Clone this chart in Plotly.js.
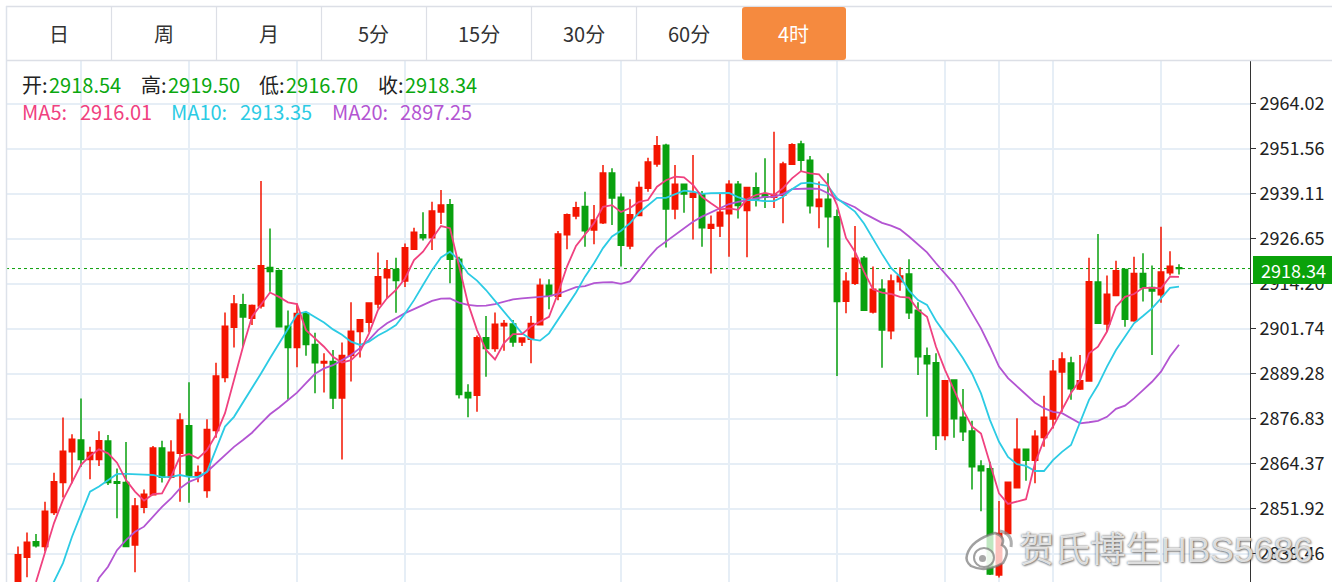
<!DOCTYPE html>
<html><head><meta charset="utf-8">
<script src="https://cdn.plot.ly/plotly-3.0.1.min.js"></script>
<style>html,body{margin:0;padding:0;background:#fff;overflow:hidden}#c{width:1332px;height:582px}</style>
</head><body><div id="c"></div>
<script>
const opens = [
2829.4,2838.4,2842.7,2841.4,2850.8,2859.1,2867.6,2870.9,2865.5,2865.5,
2870.6,2859.3,2859.1,2841.8,2852.3,2855.7,2868.7,2860.6,2867.2,2874.8,
2860.9,2856.9,2873.5,2888.2,2902.1,2908.3,2904.6,2908.0,2918.6,2917.7,
2902.4,2896.5,2905.9,2897.3,2892.2,2892.6,2882.5,2894.3,2900.9,2903.5,
2908.5,2915.8,2918.1,2914.9,2923.7,2927.7,2926.9,2934.0,2936.0,2920.9,
2884.0,2883.3,2899.2,2896.2,2902.5,2903.0,2898.0,2898.8,2902.8,2913.7,
2910.7,2927.7,2932.9,2935.5,2929.0,2931.0,2944.8,2938.1,2924.6,2933.0,
2940.6,2947.3,2952.5,2934.8,2941.7,2938.1,2938.8,2929.5,2930.1,2933.5,
2941.7,2934.4,2940.7,2938.9,2938.1,2938.6,2947.2,2952.8,2948.3,2935.5,
2937.5,2932.7,2909.3,2914.3,2921.2,2906.3,2912.6,2901.1,2914.7,2916.8,
2906.8,2894.2,2892.3,2872.1,2887.5,2877.2,2873.4,2863.7,2862.9,2833.5,
2845.0,2857.7,2868.3,2865.3,2871.6,2876.7,2889.7,2892.2,2885.0,2887.2,
2914.6,2903.0,2910.9,2918.1,2903.9,2917.0,2913.1,2911.1,2917.2,2918.54];
const highs = [
2841.4,2845.3,2844.9,2853.8,2861.8,2877.1,2872.5,2882.4,2869.0,2873.3,
2872.3,2863.0,2870.3,2854.8,2857.2,2869.2,2870.7,2870.8,2878.3,2886.9,
2863.8,2876.6,2892.3,2906.2,2911.0,2911.4,2908.4,2942.6,2929.4,2918.1,
2906.7,2908.7,2906.4,2900.6,2894.9,2895.8,2897.9,2909.0,2904.3,2908.9,
2922.8,2920.7,2921.3,2925.3,2929.6,2933.9,2936.8,2940.1,2937.6,2921.6,
2886.3,2899.8,2905.2,2906.2,2904.1,2904.1,2899.2,2905.2,2915.6,2915.4,
2928.7,2933.6,2936.8,2939.6,2935.9,2947.0,2946.1,2939.2,2937.5,2942.4,
2949.0,2955.0,2952.9,2947.0,2941.7,2949.8,2939.8,2933.0,2939.0,2942.8,
2942.6,2941.0,2944.9,2948.9,2956.2,2947.9,2953.0,2953.7,2949.5,2942.4,
2944.7,2934.7,2917.3,2930.1,2921.8,2918.9,2915.4,2916.7,2918.7,2920.9,
2909.0,2896.5,2894.9,2887.5,2887.7,2885.0,2876.2,2865.3,2864.9,2854.0,
2859.2,2876.9,2868.3,2873.6,2883.1,2893.0,2895.2,2893.9,2894.4,2921.3,
2927.9,2916.4,2920.5,2918.1,2921.6,2922.6,2919.2,2929.9,2923.1,2919.50];
const lows = [
2827.2,2832.9,2841.1,2840.0,2850.1,2855.0,2858.9,2863.5,2860.0,2863.7,
2858.4,2849.2,2841.4,2834.3,2850.6,2855.7,2859.1,2860.3,2853.8,2853.5,
2859.2,2854.9,2871.5,2886.9,2896.5,2896.7,2902.7,2907.3,2911.9,2902.1,
2882.0,2891.0,2894.2,2883.8,2884.0,2879.5,2865.5,2887.1,2893.7,2900.7,
2907.3,2910.1,2906.1,2913.2,2923.7,2926.1,2923.5,2930.7,2914.3,2882.4,
2877.2,2878.7,2888.4,2895.3,2895.6,2896.7,2896.9,2892.1,2902.7,2907.1,
2909.6,2923.7,2932.0,2924.4,2925.1,2930.7,2930.4,2918.9,2923.7,2932.9,
2939.6,2946.5,2924.2,2932.0,2933.8,2926.4,2924.4,2917.0,2927.1,2921.6,
2932.2,2921.5,2935.5,2935.1,2935.1,2930.9,2947.0,2945.1,2933.6,2929.5,
2924.2,2888.6,2906.0,2913.8,2906.8,2905.9,2890.9,2898.8,2912.2,2904.4,
2888.9,2877.3,2868.1,2870.8,2871.5,2870.6,2857.2,2851.2,2833.5,2832.8,
2845.0,2857.7,2859.6,2858.9,2869.0,2874.1,2878.7,2882.0,2884.7,2887.2,
2903.2,2900.9,2910.9,2902.2,2903.6,2909.2,2894.4,2908.9,2916.4,2916.70];
const closes = [
2839.1,2842.6,2841.6,2851.2,2859.3,2867.8,2871.1,2865.5,2867.4,2870.7,
2859.1,2858.9,2841.4,2852.6,2855.9,2868.7,2860.6,2867.5,2876.4,2860.9,
2861.9,2873.8,2888.6,2902.4,2908.5,2904.9,2908.1,2919.1,2917.5,2902.2,
2896.5,2905.9,2897.3,2892.3,2892.6,2882.5,2894.3,2901.0,2904.2,2908.8,
2916.1,2918.0,2915.0,2924.1,2928.4,2926.9,2934.3,2935.9,2920.9,2883.5,
2882.6,2899.2,2896.2,2902.9,2903.1,2898.0,2899.1,2903.1,2913.7,2910.9,
2927.9,2933.2,2935.2,2928.8,2931.8,2944.8,2937.9,2924.8,2933.2,2940.8,
2947.8,2952.3,2934.8,2941.7,2939.0,2939.2,2929.6,2930.5,2933.9,2941.7,
2935.8,2940.8,2937.3,2938.1,2938.7,2947.3,2952.6,2948.3,2935.7,2937.5,
2932.7,2909.2,2914.8,2921.2,2906.8,2912.6,2901.3,2914.9,2916.3,2906.1,
2893.9,2892.0,2872.1,2887.3,2876.8,2873.2,2863.5,2862.4,2833.8,2845.0,
2859.2,2868.3,2865.3,2871.9,2877.2,2889.9,2893.3,2885.1,2887.3,2914.7,
2903.2,2911.2,2917.7,2904.3,2917.0,2913.0,2912.1,2917.4,2919.0,2918.34];

const ma5Start = 2;
const ma5 = [
2831.6,2839.6,2847.9,2854.3,2859.3,2864.0,2866.5,2868.3,2867.2,2864.6,
2859.8,2856.6,2854.1,2855.9,2856.1,2860.7,2866.3,2867.0,2865.8,2868.1,
2872.3,2878.3,2887.5,2896.7,2905.0,2908.3,2911.7,2910.5,2909.0,2908.5,
2901.3,2899.0,2896.7,2893.9,2892.3,2893.0,2895.3,2900.4,2906.9,2910.1,
2912.4,2915.6,2920.7,2923.0,2926.7,2930.1,2929.5,2919.3,2908.7,2901.3,
2895.8,2893.2,2897.7,2900.2,2900.2,2902.3,2903.6,2905.0,2911.5,2918.9,
2924.6,2927.6,2930.9,2935.4,2935.9,2934.0,2935.1,2936.8,2937.3,2941.0,
2942.8,2943.8,2943.6,2941.5,2938.2,2936.4,2934.7,2935.0,2934.6,2937.5,
2938.7,2939.3,2938.7,2940.6,2943.3,2945.3,2944.7,2944.4,2941.5,2935.9,
2926.8,2923.0,2917.5,2912.6,2911.7,2911.3,2910.5,2910.3,2906.9,2905.0,
2896.7,2890.3,2884.7,2879.2,2874.6,2872.7,2864.4,2856.1,2853.2,2853.8,
2854.5,2864.5,2870.9,2874.6,2879.2,2883.9,2887.5,2894.9,2896.7,2900.9,
2907.8,2910.5,2911.3,2913.0,2913.0,2912.9,2916.1,2916.01];

const ma10Start = 3;
const ma10 = [
2826.6,2831.6,2836.8,2844.1,2850.1,2856.6,2858.0,2859.8,2861.5,2861.5,
2861.5,2861.3,2861.2,2860.6,2860.7,2861.2,2860.7,2860.7,2862.1,2868.1,
2874.6,2877.3,2881.2,2885.3,2889.3,2893.5,2897.5,2901.6,2905.7,2906.4,
2905.0,2903.4,2901.5,2900.0,2898.1,2897.2,2898.1,2899.8,2901.1,2902.7,
2905.9,2909.6,2913.8,2917.9,2921.4,2923.0,2920.7,2917.0,2915.0,2912.4,
2909.4,2906.4,2903.6,2900.4,2898.8,2898.4,2900.4,2904.1,2907.8,2911.7,
2916.1,2919.8,2924.0,2927.2,2928.8,2930.9,2933.8,2935.9,2937.9,2937.9,
2939.0,2939.9,2939.6,2939.0,2939.2,2939.3,2939.3,2938.1,2937.3,2937.3,
2937.0,2937.0,2938.2,2940.3,2941.9,2942.1,2941.7,2941.2,2937.8,2935.9,
2934.1,2930.8,2926.5,2922.4,2918.5,2916.1,2912.2,2909.6,2908.3,2903.9,
2900.4,2897.2,2893.5,2889.3,2883.8,2876.4,2870.4,2866.2,2864.2,2863.7,
2862.3,2862.3,2865.3,2867.6,2869.5,2875.5,2882.0,2886.1,2891.2,2895.8,
2899.5,2903.2,2905.2,2907.3,2910.1,2913.0,2913.35];

const ma20Start = 8;
const ma20 = [
2826.6,2832.7,2835.8,2840.4,2843.2,2845.5,2846.9,2849.6,2852.4,2854.7,
2857.5,2859.3,2860.3,2862.1,2864.4,2866.7,2869.0,2870.9,2872.9,2875.5,
2878.0,2879.9,2882.0,2884.0,2886.6,2889.2,2890.7,2891.6,2893.0,2894.4,
2896.3,2898.6,2901.3,2903.2,2904.6,2906.0,2907.1,2908.3,2909.4,2910.0,
2910.1,2908.9,2908.3,2908.0,2908.1,2908.5,2909.2,2909.8,2910.1,2910.3,
2910.5,2910.7,2911.3,2912.2,2913.2,2913.5,2914.3,2914.5,2914.6,2914.1,
2914.8,2917.9,2921.2,2924.0,2925.8,2927.6,2929.5,2931.3,2932.7,2933.9,
2935.0,2936.2,2936.8,2937.3,2937.8,2938.2,2938.2,2939.0,2940.3,2940.5,
2940.5,2940.4,2939.2,2937.5,2936.4,2935.3,2933.6,2932.3,2931.0,2930.2,
2929.2,2927.2,2925.1,2922.8,2919.8,2916.8,2914.1,2910.3,2906.0,2901.8,
2896.7,2891.2,2888.0,2885.8,2883.5,2881.2,2879.7,2878.7,2878.3,2876.9,
2875.5,2875.8,2876.2,2877.3,2879.5,2880.4,2882.4,2884.7,2887.0,2889.8,
2894.0,2897.25];

const yTicks = [2964.02,2951.56,2939.11,2926.65,2914.20,2901.74,2889.28,2876.83,2864.37,2851.92,2839.46];
const gridCandles = [7,19,31,43,67,79,91,103,109,115,127];
const tabLabels = ['日','周','月','5分','15分','30分','60分','4时'];
const lastPrice = 2918.34;

const UP='#f41500', DOWN='#0aa10f', GREEN='#0aa80f', BLACK='#222';
const C5='#f0417f', C10='#2ccbe4', C20='#b355d2';
const cjk='"Noto Sans CJK SC","Noto Sans",sans-serif';

const L=6,R=82,T=60,W=1332,H=582;
const pw=W-L-R, ph=H-T;
const px=x=>(x-L)/pw, py=y=>1-(y-T)/ph;
const rectP=(x0,y0,x1,y1,fill,extra)=>Object.assign({type:'rect',xref:'paper',yref:'paper',x0:px(x0),x1:px(x1),y0:py(y0),y1:py(y1),fillcolor:fill,line:{width:0},layer:'above'},extra||{});
const lineP=(x0,y0,x1,y1,color,w)=>({type:'line',xref:'paper',yref:'paper',x0:px(x0),x1:px(x1),y0:py(y0),y1:py(y1),line:{color:color,width:w||1},layer:'above'});
const txt=(x,y,text,color,size,anchor,extra)=>Object.assign({xref:'paper',yref:'paper',x:px(x),y:py(y),text:text,showarrow:false,xanchor:anchor||'left',yanchor:'middle',font:{family:cjk,size:size,color:color},borderpad:0,borderwidth:0},extra||{});

const xs=opens.map((_,i)=>i);
const seq=(start,a)=>a.map((_,k)=>k+start);
const traces=[
 {type:'candlestick',x:xs,open:opens,high:highs,low:lows,close:closes,
  increasing:{line:{color:UP,width:1.5},fillcolor:UP},
  decreasing:{line:{color:DOWN,width:1.5},fillcolor:DOWN},
  whiskerwidth:0,hoverinfo:'skip',showlegend:false},
 {type:'scatter',mode:'lines',x:seq(ma20Start,ma20),y:ma20,line:{color:C20,width:1.8},hoverinfo:'skip',showlegend:false},
 {type:'scatter',mode:'lines',x:seq(ma10Start,ma10),y:ma10,line:{color:C10,width:1.8},hoverinfo:'skip',showlegend:false},
 {type:'scatter',mode:'lines',x:seq(ma5Start,ma5),y:ma5,line:{color:C5,width:1.8},hoverinfo:'skip',showlegend:false}
];

const shapes=[
 lineP(6,6.5,1332,6.5,'#dcdfe6',1.5),
 lineP(6,60.5,1332,60.5,'#dcdfe6',1.5),
 lineP(6.5,6,6.5,582,'#dde2ea',1.5),
 {type:'line',xref:'paper',yref:'y',x0:0,x1:1,y0:lastPrice,y1:lastPrice,line:{color:'#0a9f0a',width:1,dash:'3px,3px'},layer:'below'},
 rectP(22,73,480,100,'#ffffff',{layer:'between'}),
 rectP(1253,256,1332,284,'#0aa20a'),
 {type:'path',xref:'paper',yref:'paper',layer:'above',fillcolor:'#f58a3f',line:{width:0},
  path:`M ${px(745)} ${py(7)} L ${px(843)} ${py(7)} Q ${px(846)} ${py(7)} ${px(846)} ${py(10)} L ${px(846)} ${py(57)} Q ${px(846)} ${py(60)} ${px(843)} ${py(60)} L ${px(745)} ${py(60)} Q ${px(742)} ${py(60)} ${px(742)} ${py(57)} L ${px(742)} ${py(10)} Q ${px(742)} ${py(7)} ${px(745)} ${py(7)} Z`}
];
tabLabels.forEach((_,i)=>{ if(i>0&&i<7) shapes.push(lineP(6+105*i+0.5,7,6+105*i+0.5,60,'#dcdfe6',1.2)); });

// weibo logo
shapes.push({type:'path',xref:'paper',yref:'paper',layer:'above',
 path:`M ${px(967)} ${py(555)} Q ${px(971)} ${py(540)} ${px(995)} ${py(533)} Q ${px(1006)} ${py(537)} ${px(1002)} ${py(545)} Q ${px(1011)} ${py(550)} ${px(1003)} ${py(563)} Q ${px(985)} ${py(573)} ${px(971)} ${py(566)} Q ${px(965)} ${py(561)} ${px(967)} ${py(555)} Z`,
 fillcolor:'rgba(255,255,255,0.74)',line:{color:'rgba(120,120,120,0.7)',width:2.5}});
shapes.push({type:'circle',xref:'paper',yref:'paper',layer:'above',x0:px(974),x1:px(994),y0:py(548),y1:py(567),fillcolor:'rgba(255,255,255,0.7)',line:{color:'rgba(120,120,120,0.7)',width:2}});
shapes.push({type:'circle',xref:'paper',yref:'paper',layer:'above',x0:px(979),x1:px(986),y0:py(555),y1:py(562),fillcolor:'rgba(130,130,130,0.7)',line:{width:0}});
shapes.push({type:'path',xref:'paper',yref:'paper',layer:'above',path:`M ${px(1000)} ${py(531)} Q ${px(1013)} ${py(534)} ${px(1011)} ${py(547)}`,line:{color:'rgba(140,140,140,0.7)',width:3}});

const annotations=[];
tabLabels.forEach((t,i)=>annotations.push(txt(6+105*i+52.5,33,t,i===7?'#ffffff':'#333333',20,'center')));
[['开:',22,'2918.54',49],['高:',141,'2919.50',168],['低:',259,'2916.70',286],['收:',378,'2918.34',405]].forEach(r=>{
 annotations.push(txt(r[1],85,r[0],BLACK,20));
 annotations.push(txt(r[3],85,r[2],GREEN,20));
});
[['MA5:',22,'2916.01',80,C5],['MA10:',171,'2913.35',240,C10],['MA20:',332,'2897.25',400,C20]].forEach(r=>{
 annotations.push(txt(r[1],111.5,r[0],r[4],20));
 annotations.push(txt(r[3],111.5,r[2],r[4],20));
});
annotations.push(txt(1293,270,lastPrice.toFixed(2),'#ffffff',18,'center'));
annotations.push(txt(1019,550,'贺氏博生HBS5686','rgba(255,255,255,0.78)',35.5,'left',{font:{family:'"Liberation Sans","Noto Sans CJK SC",sans-serif',size:35.5,color:'rgba(255,255,255,0.78)',shadow:'0px 0px 2px rgba(60,60,60,1), 1px 1px 2px rgba(60,60,60,0.7)'}}));

Plotly.newPlot('c',traces,{
 width:W,height:H,margin:{l:L,r:R,t:T,b:0,pad:0},
 paper_bgcolor:'#ffffff',plot_bgcolor:'#ffffff',showlegend:false,boxgap:0.14,
 xaxis:{type:'linear',range:[-1.3333,136.889],rangeslider:{visible:false},tickmode:'array',tickvals:gridCandles,ticktext:gridCandles.map(()=>''),ticks:'',showgrid:true,gridcolor:'#e6eef6',gridwidth:2,zeroline:false,showline:false,fixedrange:true},
 yaxis:{side:'right',range:[2831.584,2976.063],tickmode:'array',tickvals:yTicks,ticktext:yTicks.map(v=>v.toFixed(2)),ticks:'outside',ticklen:5,tickwidth:1,tickcolor:'#333',showline:true,linecolor:'#333',linewidth:1,showgrid:true,gridcolor:'#e6eef6',gridwidth:2,zeroline:false,fixedrange:true,tickfont:{family:cjk,size:18,color:'#222'}},
 shapes:shapes,annotations:annotations
},{staticPlot:true,displayModeBar:false});
</script></body></html>
